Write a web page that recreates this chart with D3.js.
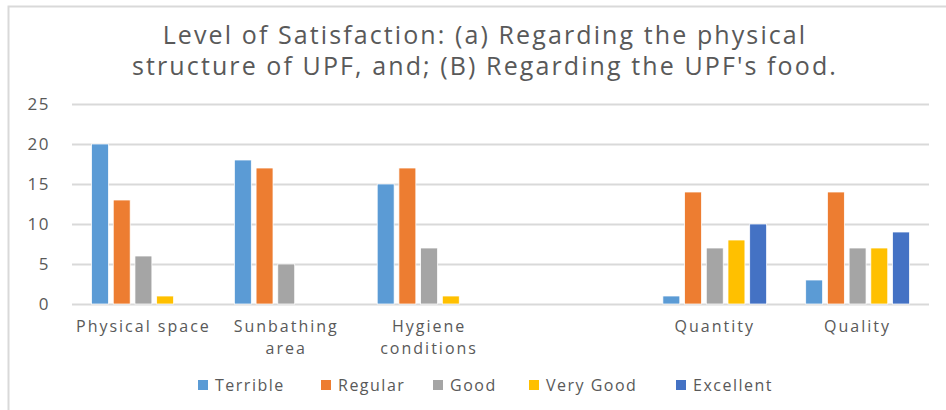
<!DOCTYPE html>
<html>
<head>
<meta charset="utf-8">
<script src="https://cdn.jsdelivr.net/npm/d3@7"></script>
<style>
  body { margin: 0; background: #fff; }
  text { font-family: "Open Sans", "Noto Sans", sans-serif; fill: #595959; }
  .title { font-size: 25px; letter-spacing: 2.1px; }
  .tick text { font-size: 17px; letter-spacing: 1.5px; }
  .label { font-size: 16px; letter-spacing: 2px; }
  .legend text { font-size: 16px; letter-spacing: 1.5px; }
</style>
</head>
<body>
<svg id="chart"></svg>
<script>
// categories (the blank one separates part (a) from part (b))
var categories = ["Physical space", "Sunbathing area", "Hygiene conditions", "", "Quantity", "Quality"]
var categoryLines = [["Physical space"], ["Sunbathing", "area"], ["Hygiene", "conditions"], [], ["Quantity"], ["Quality"]]
var seriesNames = ["Terrible", "Regular", "Good", "Very Good", "Excellent"]
var seriesColors = ["#5B9BD5", "#ED7D31", "#A5A5A5", "#FFC000", "#4472C4"]

var terrible  = [20, 18, 15, 0, 1, 3]
var regular   = [13, 17, 17, 0, 14, 14]
var good      = [6, 5, 7, 0, 7, 7]
var veryGood  = [1, 0, 1, 0, 8, 7]
var excellent = [0, 0, 0, 0, 10, 9]

var yTicks = [0, 5, 10, 15, 20, 25]
var titleLines = ["Level of Satisfaction: (a) Regarding the physical", "structure of UPF, and; (B) Regarding the UPF's food."]

var drawChart = function()
{
    var screen = {width: 946, height: 410}
    var margins = {left: 72, right: 17, top: 104, bottom: 106}
    var graph = {
        width: screen.width - margins.left - margins.right,
        height: screen.height - margins.top - margins.bottom
    }

    var svg = d3.select("#chart")
        .attr("width", screen.width)
        .attr("height", screen.height)

    // chart frame (only top and left edges are visible in the crop)
    svg.append("rect")
        .attr("x", 8.5).attr("y", 6.5)
        .attr("width", 1200).attr("height", 1200)
        .attr("fill", "none")
        .attr("stroke", "#d9d9d9")
        .attr("stroke-width", 2)

    var series = [terrible, regular, good, veryGood, excellent]
    var rows = categories.map(function(c, i)
    {
        return {category: c, values: series.map(function(s, j) { return {name: seriesNames[j], value: s[i]} })}
    })

    var x0 = d3.scaleBand()
        .domain(categories)
        .range([0, graph.width])
        .padding(0)

    var x1 = d3.scaleBand()
        .domain(seriesNames)
        .range([0, x0.bandwidth()])
        .paddingInner(0.22)
        .paddingOuter(0.9)

    var yScale = d3.scaleLinear()
        .domain([0, 25])
        .range([graph.height, 0])

    var color = d3.scaleOrdinal()
        .domain(seriesNames)
        .range(seriesColors)

    var target = svg.append("g")
        .attr("transform", "translate(" + margins.left + "," + margins.top + ")")

    // gridlines + y labels
    var yAxis = d3.axisLeft(yScale)
        .tickValues(yTicks)
        .tickSize(-graph.width)
        .tickPadding(22)

    var axisG = target.append("g").call(yAxis)
    axisG.select(".domain").remove()
    axisG.selectAll(".tick line")
        .attr("stroke", "#d9d9d9")
        .attr("stroke-width", 2)

    // bars
    var groups = target.selectAll(".group")
        .data(rows)
        .enter()
        .append("g")
        .attr("transform", function(d) { return "translate(" + x0(d.category) + ",0)" })

    groups.selectAll("rect")
        .data(function(d) { return d.values.filter(function(v) { return v.value > 0 }) })
        .enter()
        .append("rect")
        .attr("x", function(d) { return x1(d.name) })
        .attr("y", function(d) { return yScale(d.value) })
        .attr("width", x1.bandwidth())
        .attr("height", function(d) { return graph.height - yScale(d.value) })
        .attr("fill", function(d) { return color(d.name) })
        .attr("stroke", "#fff")
        .attr("stroke-width", 0.75)

    // category labels
    var labels = target.append("g")
    categories.forEach(function(c, i)
    {
        var t = labels.append("text")
            .classed("label", true)
            .attr("text-anchor", "middle")
            .attr("x", x0(c) + x0.bandwidth() / 2)
            .attr("y", graph.height + 28)
        categoryLines[i].forEach(function(line, k)
        {
            t.append("tspan")
                .attr("x", x0(c) + x0.bandwidth() / 2)
                .attr("dy", k == 0 ? 0 : 22)
                .text(line)
        })
    })

    // title
    var title = svg.append("text")
        .classed("title", true)
        .attr("text-anchor", "middle")
        .attr("x", 485)
        .attr("y", 44)
    titleLines.forEach(function(line, k)
    {
        title.append("tspan")
            .attr("x", 485)
            .attr("dy", k == 0 ? 0 : 31)
            .text(line)
    })

    // legend
    var legendX = [198, 321, 433, 529, 676]
    var legend = svg.append("g").classed("legend", true)
    seriesNames.forEach(function(name, i)
    {
        legend.append("rect")
            .attr("x", legendX[i])
            .attr("y", 380)
            .attr("width", 10)
            .attr("height", 10)
            .attr("fill", color(name))
        legend.append("text")
            .attr("x", legendX[i] + 17)
            .attr("y", 391)
            .text(name)
    })
}

drawChart()
</script>
</body>
</html>
